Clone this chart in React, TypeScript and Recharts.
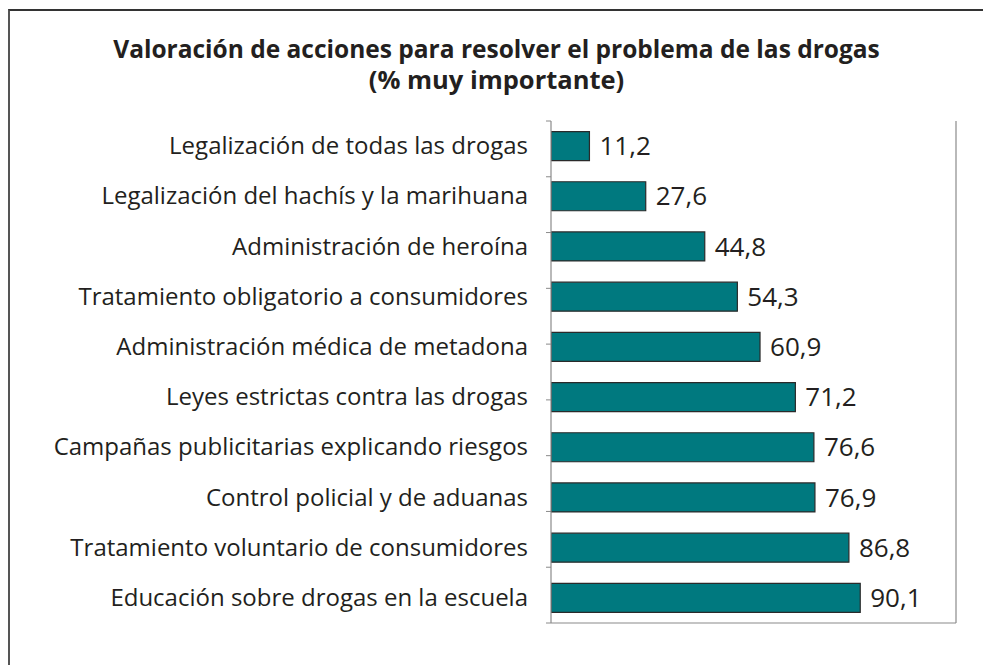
import React from "react";
import { BarChart, Bar, XAxis, YAxis, LabelList } from "recharts";

const categories = [
  "Legalización de todas las drogas",
  "Legalización del hachís y la marihuana",
  "Administración de heroína",
  "Tratamiento obligatorio a consumidores",
  "Administración médica de metadona",
  "Leyes estrictas contra las drogas",
  "Campañas publicitarias explicando riesgos",
  "Control policial y de aduanas",
  "Tratamiento voluntario de consumidores",
  "Educación sobre drogas en la escuela",
];
const values = [11.2, 27.6, 44.8, 54.3, 60.9, 71.2, 76.6, 76.9, 86.8, 90.1];
const boundaryTicks = [0, 1, 2, 3, 4, 5, 6, 7, 8, 9, 10];
const titleLines = [
  "Valoración de acciones para resolver el problema de las drogas",
  "(% muy importante)",
];

const data = categories.map((name, i) => ({ name, value: values[i] }));

const FONT = "'Open Sans', 'Noto Sans', sans-serif";
const AXIS = "#8a8a8a";

const CatTick = (props: any) => {
  const { x, y, payload } = props;
  return (
    <text
      x={x}
      y={y}
      dy={8}
      textAnchor="end"
      fontSize={24}
      fontFamily={FONT}
      fill="#231f20"
    >
      {payload.value}
    </text>
  );
};

const NoTick = () => <g />;

export default function App() {
  return (
    <div
      style={{
        position: "fixed",
        left: 8,
        top: 9,
        width: 975,
        height: 656,
        borderTop: "2px solid #333",
        borderLeft: "2px solid #555",
        boxSizing: "border-box",
        background: "#fff",
        overflow: "hidden",
      }}
    >
      <div
        style={{
          position: "absolute",
          left: 0,
          top: 23,
          width: 973,
          textAlign: "center",
          fontFamily: FONT,
          fontWeight: 700,
          fontSize: 24.5,
          lineHeight: "30px",
          color: "#231f20",
        }}
      >
        <div style={{ whiteSpace: "nowrap" }}>{titleLines[0]}</div>
        <div style={{ whiteSpace: "nowrap", fontSize: 25.5 }}>{titleLines[1]}</div>
      </div>
      <BarChart
        width={973}
        height={654}
        data={data}
        layout="vertical"
        margin={{ top: 110, right: 26, bottom: 41, left: 0 }}
        barCategoryGap="21%"
        style={{ position: "absolute", left: 0, top: 0 }}
      >
        <XAxis
          type="number"
          domain={[0, 118]}
          ticks={[0]}
          allowDataOverflow
          height={1}
          tick={NoTick}
          tickLine={false}
          axisLine={{ stroke: AXIS, strokeWidth: 1.2 }}
        />
        <YAxis
          yAxisId="b"
          type="category"
          dataKey="name"
          width={540}
          tick={CatTick}
          tickSize={0}
          tickMargin={22}
          tickLine={false}
          axisLine={false}
          interval={0}
        />
        <YAxis
          yAxisId="a"
          type="number"
          domain={[0, 10]}
          ticks={boundaryTicks}
          width={1}
          tick={NoTick}
          tickSize={5}
          tickLine={{ stroke: AXIS }}
          axisLine={{ stroke: AXIS, strokeWidth: 1.2 }}
        />
        <YAxis
          yAxisId="right"
          orientation="right"
          type="number"
          domain={[0, 10]}
          ticks={[0, 10]}
          width={1}
          tick={NoTick}
          tickLine={false}
          axisLine={{ stroke: AXIS, strokeWidth: 1.2 }}
        />
        <Bar
          yAxisId="b"
          dataKey="value"
          fill="#00797f"
          stroke="#2a2a2a"
          strokeWidth={1.2}
          isAnimationActive={false}
        >
          <LabelList
            dataKey="value"
            position="right"
            offset={10}
            fontSize={26}
            fontFamily={FONT}
            fill="#231f20"
            formatter={(v: any) => String(v).replace(".", ",")}
          />
        </Bar>
      </BarChart>
    </div>
  );
}
